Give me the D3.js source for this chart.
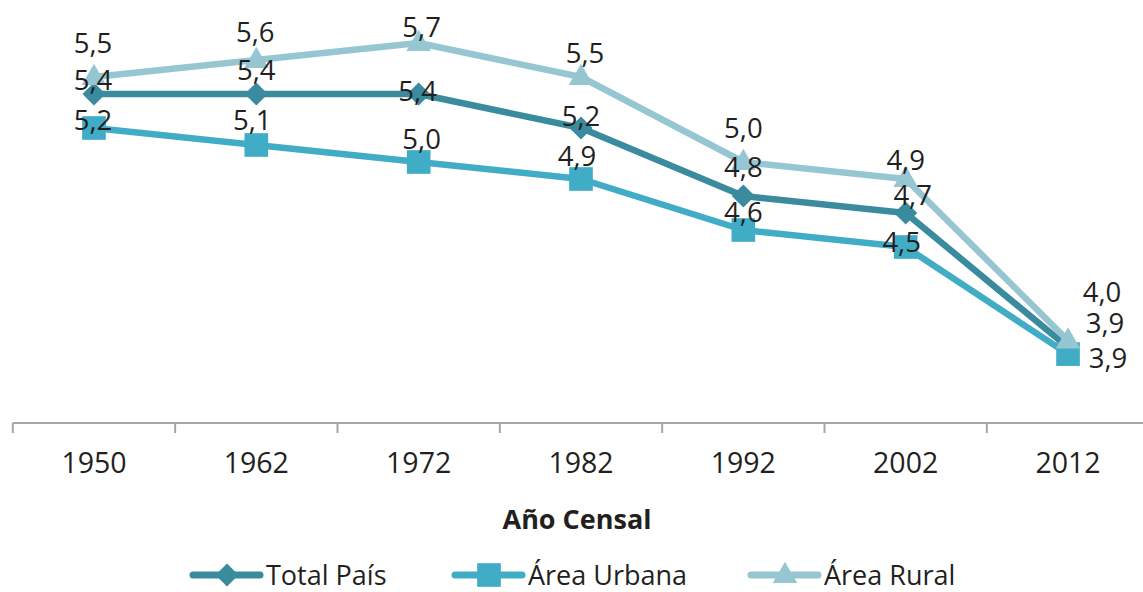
<!DOCTYPE html>
<html>
<head>
<meta charset="utf-8">
<script src="https://cdn.jsdelivr.net/npm/d3@7"></script>
<style>
  body { margin: 0; background: #fff; }
  text { font-family: "Open Sans", sans-serif; fill: #231f20; }
</style>
</head>
<body>
<div id="vis-holder"></div>
<script>
// Data
const years = ["1950", "1962", "1972", "1982", "1992", "2002", "2012"];
const totalPais = [5.4, 5.4, 5.4, 5.2, 4.8, 4.7, 3.91];
const areaUrbana = [5.2, 5.1, 5.0, 4.9, 4.6, 4.5, 3.87];
const areaRural = [5.5, 5.6, 5.7, 5.5, 5.0, 4.9, 3.95];
const seriesNames = ["Total País", "Área Urbana", "Área Rural"];
const axisTitle = "Año Censal";

// Label nudges (layout only, dx / dy in px from each point)
const labelNudge = {
  "Total País":  [[-1, -14], [0, -24], [-1, -3], [0, -12], [0, -29], [7, -18], [37, -24]],
  "Área Urbana": [[-1, -8], [-4, -25], [3, -23], [-4, -23], [0, -18], [-4, -5], [40, 4]],
  "Área Rural":  [[-1, -34], [-1, -28], [3, -16], [4, -24], [0, -34], [0, -19], [34, -48]]
};

const width = 1143;
const height = 592;
const plotBottom = 423;

const svg = d3.select("#vis-holder")
  .append("svg")
  .attr("width", width)
  .attr("height", height);

// Scales
const x = d3.scaleBand()
  .domain(years)
  .range([12.8, 1149.2])
  .padding(0);
const cx = (d) => x(d) + x.bandwidth() / 2;

const y = d3.scaleLinear()
  .domain([3.5, 5.7])
  .range([417, 43]);

// Colors + markers
const colors = {
  "Total País": "#3b8b9e",
  "Área Urbana": "#41acc6",
  "Área Rural": "#97c6d3"
};
const symbols = {
  "Total País": d3.symbol().type(d3.symbolDiamond2).size(340),
  "Área Urbana": d3.symbol().type(d3.symbolSquare).size(560),
  "Área Rural": d3.symbol().type(d3.symbolTriangle).size(260)
};
const symbolShift = { "Total País": 0, "Área Urbana": 0, "Área Rural": 1 };

const seriesData = [
  { name: "Total País", values: totalPais },
  { name: "Área Urbana", values: areaUrbana },
  { name: "Área Rural", values: areaRural }
];

// Category axis
const axisG = svg.append("g");
axisG.append("line")
  .attr("x1", x.range()[0])
  .attr("x2", x.range()[1])
  .attr("y1", plotBottom)
  .attr("y2", plotBottom)
  .attr("stroke", "#a6a6a6")
  .attr("stroke-width", 2);

const tickPos = years.map((d) => x(d)).concat([x.range()[1]]);
axisG.selectAll(".tick")
  .data(tickPos)
  .enter()
  .append("line")
  .attr("x1", (d) => d)
  .attr("x2", (d) => d)
  .attr("y1", plotBottom)
  .attr("y2", plotBottom + 10)
  .attr("stroke", "#a6a6a6")
  .attr("stroke-width", 2);

axisG.selectAll(".tlabel")
  .data(years)
  .enter()
  .append("text")
  .attr("x", (d) => cx(d))
  .attr("y", 473)
  .attr("text-anchor", "middle")
  .attr("font-size", "28.5px")
  .text((d) => d);

svg.append("text")
  .attr("x", 577)
  .attr("y", 529)
  .attr("text-anchor", "middle")
  .attr("font-size", "27px")
  .attr("font-weight", "bold")
  .text(axisTitle);

// Lines
const line = d3.line()
  .x((d, i) => cx(years[i]))
  .y((d) => y(d));

seriesData.forEach((s) => {
  svg.append("path")
    .datum(s.values)
    .attr("fill", "none")
    .attr("stroke", colors[s.name])
    .attr("stroke-width", 6.5)
    .attr("stroke-linejoin", "round")
    .attr("d", line);

  svg.selectAll(null)
    .data(s.values)
    .enter()
    .append("path")
    .attr("d", symbols[s.name])
    .attr("transform", (d, i) => `translate(${cx(years[i])},${y(d) + symbolShift[s.name]})`)
    .attr("fill", colors[s.name]);
});

// Data labels
const fmt = (v) => d3.format(".1f")(v).replace(".", ",");
seriesData.forEach((s) => {
  svg.selectAll(null)
    .data(s.values)
    .enter()
    .append("text")
    .attr("x", (d, i) => cx(years[i]) + labelNudge[s.name][i][0])
    .attr("y", (d, i) => y(d) + labelNudge[s.name][i][1])
    .attr("dy", "0.36em")
    .attr("text-anchor", "middle")
    .attr("font-size", "27.5px")
    .text((d) => fmt(d));
});

// Legend
const legendX = [190, 452, 748];
const legendY = 575;
const legend = svg.selectAll(".legend")
  .data(seriesData)
  .enter()
  .append("g")
  .attr("transform", (d, i) => `translate(${legendX[i]},${legendY})`);

legend.append("line")
  .attr("x1", 3)
  .attr("x2", 70)
  .attr("stroke", (d) => colors[d.name])
  .attr("stroke-width", 7)
  .attr("stroke-linecap", "round");

legend.append("path")
  .attr("d", (d) => symbols[d.name]())
  .attr("transform", (d) => `translate(37,${symbolShift[d.name]})`)
  .attr("fill", (d) => colors[d.name]);

legend.append("text")
  .attr("x", 76)
  .attr("dy", "0.36em")
  .attr("font-size", "27px")
  .text((d) => d.name);
</script>
</body>
</html>
